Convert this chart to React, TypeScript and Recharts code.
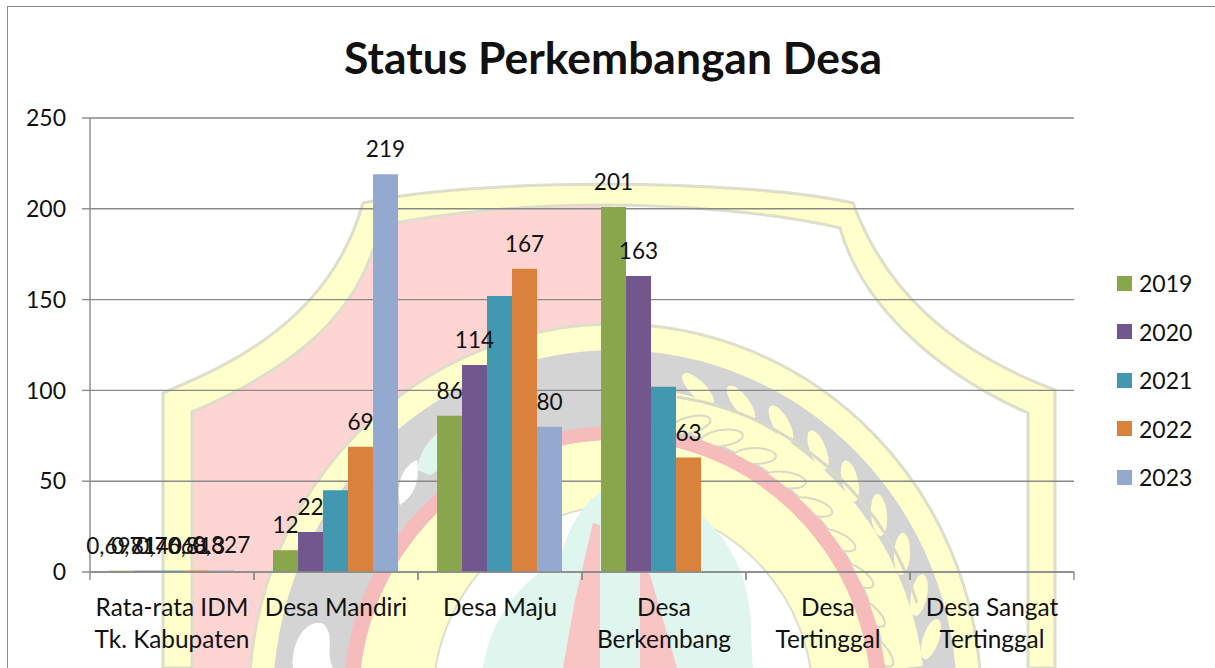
import { Bar, BarChart, CartesianGrid, LabelList, Legend, XAxis, YAxis } from "recharts";

const categories = [
  "Rata-rata IDM Tk. Kabupaten",
  "Desa Mandiri",
  "Desa Maju",
  "Desa Berkembang",
  "Desa Tertinggal",
  "Desa Sangat Tertinggal",
];
const tickLines: Record<string, string[]> = {
  "Rata-rata IDM Tk. Kabupaten": ["Rata-rata IDM", "Tk. Kabupaten"],
  "Desa Mandiri": ["Desa Mandiri"],
  "Desa Maju": ["Desa Maju"],
  "Desa Berkembang": ["Desa", "Berkembang"],
  "Desa Tertinggal": ["Desa", "Tertinggal"],
  "Desa Sangat Tertinggal": ["Desa Sangat", "Tertinggal"],
};

const v2019 = [0.6981, 12, 86, 201, null, null];
const v2020 = [0.714, 22, 114, 163, null, null];
const v2021 = [0.7668, 45, 152, 102, null, null];
const v2022 = [0.813, 69, 167, 63, null, null];
const v2023 = [0.827, 219, 80, null, null, null];

const l2019 = ["0,6981", "12", "86", "201", "", ""];
const l2020 = ["0,7140", "22", "114", "163", "", ""];
const l2021 = ["0,7668", "", "", "", "", ""];
const l2022 = ["0,813", "69", "167", "63", "", ""];
const l2023 = ["0,827", "219", "80", "", "", ""];

const yTicks = [0, 50, 100, 150, 200, 250];

const seriesList = [
  { key: "2019", values: v2019, labels: l2019, color: "#8aa64d" },
  { key: "2020", values: v2020, labels: l2020, color: "#72578f" },
  { key: "2021", values: v2021, labels: l2021, color: "#4198b0" },
  { key: "2022", values: v2022, labels: l2022, color: "#da823c" },
  { key: "2023", values: v2023, labels: l2023, color: "#93a9cf" },
];

const tableData = categories.map((name, i) => {
  const row: Record<string, string | number | null> = { name };
  seriesList.forEach((s) => {
    row["v" + s.key] = s.values[i];
    row["l" + s.key] = s.labels[i];
  });
  return row;
});

const FONT = "Lato, Carlito, sans-serif";
const AXIS = "#8a8a8a";
const BAND = 164;

// the axis ticks sit on the category edges, the text in the middle
function CategoryTick({ x, y, payload }: any) {
  const lines = tickLines[payload.value] || [payload.value];
  const top = y - 8;
  return (
    <g>
      <line x1={x - BAND / 2} x2={x - BAND / 2} y1={top} y2={top + 8} stroke={AXIS} strokeWidth={1.4} />
      <line x1={x + BAND / 2} x2={x + BAND / 2} y1={top} y2={top + 8} stroke={AXIS} strokeWidth={1.4} />
      <text textAnchor="middle" fontFamily={FONT} fontSize={24.4} fill="#111">
        {lines.map((t, i) => (
          <tspan key={t} x={x} y={y + 36 + i * 32}>
            {t}
          </tspan>
        ))}
      </text>
    </g>
  );
}

function LegendBox({ payload }: any) {
  return (
    <div>
      {(payload || []).map((p: any) => (
        <div key={p.value} style={{ height: 48.5, display: "flex", alignItems: "center" }}>
          <span style={{ width: 15, height: 15, background: p.color, marginRight: 7 }} />
          <span style={{ fontFamily: FONT, fontSize: 23, color: "#111" }}>{p.value}</span>
        </div>
      ))}
    </div>
  );
}

// wheat leaves on the right of the faded logo: x, y, rotation
const outerLeaves = [
  [698, 389, 45], [741, 403, 53], [781, 424, 61], [818, 450, 69], [850, 481, 77],
  [879, 515, 85], [902, 554, 93], [919, 595, 101], [931, 639, 109],
];
const innerLeaves = [
  [690, 425, -15], [722, 438, -8], [755, 456, 0], [785, 480, 8], [812, 507, 16],
  [836, 540, 24], [855, 575, 32], [868, 612, 40], [878, 650, 48],
];

function Watermark() {
  return (
    <svg width={1215} height={668} style={{ position: "absolute", left: 0, top: 0 }}>
      <path
        d="M163 393 C230 365 330 320 363 203 C470 178 740 178 853 203 C885 290 950 350 1055 390 L1055 668 L163 668 Z"
        fill="#ffffcc"
        stroke="#dedecb"
        strokeWidth={3}
      />
      <path
        d="M192 412 C290 370 350 320 373 250 C385 225 400 222 400 222 C480 208 560 205 610 205 L610 668 L192 668 Z"
        fill="#ffd5d3"
      />
      <path
        d="M610 205 C680 205 770 212 840 228 C860 300 930 370 1028 413 L1028 668 L610 668 Z"
        fill="#ffffff"
      />
      <path
        d="M192 668 L192 412 C290 370 350 320 373 250 C385 225 400 222 400 222 C480 208 560 205 600 205 C680 205 770 212 840 228 C860 300 930 370 1028 413 L1028 668"
        fill="none"
        stroke="#dedecb"
        strokeWidth={3}
      />
      <ellipse cx={615} cy={700} rx={366} ry={376} fill="#ffffcc" stroke="#dedecb" strokeWidth={3} />
      <ellipse cx={615} cy={700} rx={342} ry={350} fill="#d4d4d4" />
      <path d="M670 410 A295 300 0 0 1 905 668" fill="none" stroke="#ffffcc" strokeWidth={36} />
      {outerLeaves.map(([x, y, r]) => (
        <ellipse key={`${x}-${y}`} cx={x} cy={y} rx={21} ry={8} fill="#ffffcc" transform={`rotate(${r} ${x} ${y})`} />
      ))}
      {innerLeaves.map(([x, y, r]) => (
        <ellipse key={`${x}-${y}`} cx={x} cy={y} rx={21} ry={8} fill="#ffffcc" stroke="#d9d9c6" strokeWidth={2} transform={`rotate(${r} ${x} ${y})`} />
      ))}
      <path d="M677 397 A298 303 0 0 1 917 603" fill="none" stroke="#d9d9c6" strokeWidth={3} />
      <path d="M417 470 C420 445 440 425 470 415 C470 440 450 465 430 475 Z" fill="#dff6ee" />
      <path d="M400 505 C395 480 405 465 417 460 C420 480 415 495 400 505 Z" fill="#ffffff" />
      <path d="M293 668 C290 640 310 615 325 625 C335 640 325 650 333 668 Z" fill="#ffffff" />
      <ellipse cx={615} cy={700} rx={272} ry={274} fill="#f6bcbc" />
      <ellipse cx={615} cy={700} rx={256} ry={260} fill="#ffffcc" />
      <ellipse cx={623} cy={700} rx={190} ry={195} fill="#ffffff" stroke="#dedecb" strokeWidth={2} />
      <path d="M483 668 C490 620 520 580 560 560 C570 520 590 490 620 485 C680 490 720 520 740 570 C755 610 750 640 753 668 Z" fill="#dff6ee" />
      <path d="M563 668 L575 600 L593 523 L600 525 L600 668 Z" fill="#f8c4c4" />
      <path d="M640 668 L640 560 L650 575 L677 668 Z" fill="#f8c4c4" />
    </svg>
  );
}

export default function App() {
  return (
    <div style={{ position: "absolute", left: 0, top: 0, width: 1215, height: 668, overflow: "hidden", background: "#fff" }}>
      <Watermark />
      <div style={{ position: "absolute", left: 7, top: 6, width: 1208, height: 662, borderLeft: "1.5px solid #8a8a8a", borderTop: "1.5px solid #8a8a8a", boxSizing: "border-box" }} />
      <div style={{ position: "absolute", left: 0, top: 30, width: 1226, textAlign: "center", fontFamily: FONT, fontWeight: 700, fontSize: 44.4, lineHeight: "54px", color: "#111" }}>
        Status Perkembangan Desa
      </div>
      <div style={{ position: "absolute", left: 0, top: 0 }}>
        <BarChart
          width={1215}
          height={668}
          data={tableData}
          margin={{ top: 118, right: 141, bottom: 0, left: 0 }}
          barCategoryGap="11.6%"
          barGap={0}
        >
          <CartesianGrid horizontal vertical={false} stroke={AXIS} strokeWidth={1.4} />
          <XAxis
            dataKey="name"
            height={96}
            interval={0}
            tickLine={false}
            axisLine={{ stroke: AXIS, strokeWidth: 1.4 }}
            tick={<CategoryTick />}
          />
          <YAxis
            width={90}
            domain={[0, 250]}
            ticks={yTicks}
            tickSize={8}
            tickMargin={16}
            tickLine={{ stroke: AXIS, strokeWidth: 1.4 }}
            axisLine={{ stroke: AXIS, strokeWidth: 1.4 }}
            tick={{ fontFamily: FONT, fontSize: 23, fill: "#111" }}
          />
          <Legend
            layout="vertical"
            align="center"
            verticalAlign="middle"
            wrapperStyle={{ left: 1117, top: 259, width: 90 }}
            content={<LegendBox />}
          />
          {seriesList.map((s) => (
            <Bar key={s.key} dataKey={"v" + s.key} name={s.key} fill={s.color} isAnimationActive={false}>
              <LabelList
                dataKey={"l" + s.key}
                position="top"
                offset={17}
                fontFamily={FONT}
                fontSize={22.6}
                fill="#111"
              />
            </Bar>
          ))}
        </BarChart>
      </div>
    </div>
  );
}
